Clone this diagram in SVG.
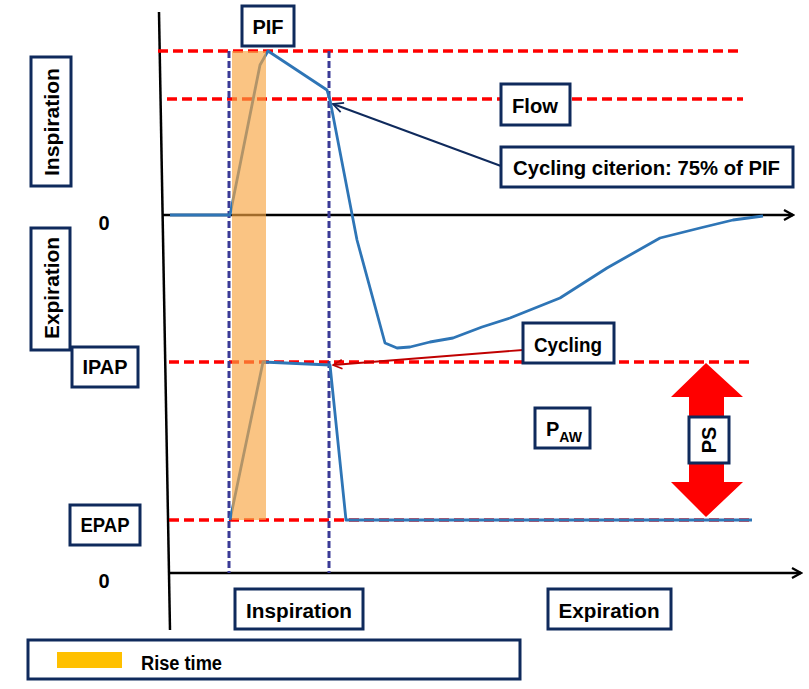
<svg xmlns="http://www.w3.org/2000/svg" width="809" height="689" viewBox="0 0 809 689">
<defs>
<marker id="axArrow" viewBox="0 0 12 12" refX="10" refY="6" markerWidth="12" markerHeight="12" markerUnits="userSpaceOnUse" orient="auto">
<path d="M1,1 L10,6 L1,11" fill="none" stroke="#000" stroke-width="2.2"/>
</marker>
<marker id="navyArrow" viewBox="0 0 12 12" refX="11" refY="6" markerWidth="12" markerHeight="12" markerUnits="userSpaceOnUse" orient="auto">
<path d="M1,1 L11,6 L1,11" fill="none" stroke="#0F2A5C" stroke-width="1.8"/>
</marker>
<marker id="redArrow" viewBox="0 0 12 12" refX="11" refY="6" markerWidth="11" markerHeight="11" markerUnits="userSpaceOnUse" orient="auto">
<path d="M1,1 L11,6 L1,11" fill="none" stroke="#C00000" stroke-width="1.8"/>
</marker>
</defs>
<style>
.box{fill:#fff;stroke:#0F2A5C;stroke-width:3}
.t{font-family:"Liberation Sans",Arial,sans-serif;font-weight:bold;font-size:20px;fill:#000}
.red{stroke:#FF0000;stroke-width:3.5;stroke-dasharray:10 5;fill:none}
.vdash{stroke:#3A3A96;stroke-width:3;stroke-dasharray:7 3;fill:none}
.axis{stroke:#000;stroke-width:2.5;fill:none}
.curve{stroke:#2E75B6;stroke-width:2.8;fill:none;stroke-linejoin:round}
</style>
<rect width="809" height="689" fill="#fff"/>

<g id="axes">
<line class="axis" x1="159" y1="12" x2="170" y2="630"/>
<line class="axis" x1="162" y1="215" x2="793" y2="215" marker-end="url(#axArrow)"/>
<line class="axis" x1="169" y1="573" x2="801" y2="573" marker-end="url(#axArrow)"/>
</g>

<g id="reference-lines">
<line class="red" x1="158" y1="51" x2="743" y2="51"/>
<line class="red" x1="167" y1="99" x2="743" y2="99"/>
<line class="red" x1="169" y1="362" x2="753" y2="362"/>
<line class="red" x1="169" y1="520" x2="752" y2="520"/>
<line class="vdash" x1="229" y1="51" x2="229" y2="573"/>
<line class="vdash" x1="329" y1="51" x2="329" y2="573"/>
</g>

<g id="curves">
<polyline class="curve" points="170,215 230,215 260,65 268,51 327,90 330,100 357,240 385,343 397,348 410,347 430,342 453,338 482,327 510,318 560,298 607,268 660,238 700,228 733,220 763,216"/>
<polyline class="curve" points="230,520 263,362 330,365 346,520 752,520"/>
</g>

<rect id="rise-band" x="232" y="51" width="34" height="469" fill="#F7A541" opacity="0.65"/>

<g id="ps-arrow">
<polygon points="706,363 743,397 724,397 724,482 743,482 706,517 671,482 689,482 689,397 671,397" fill="#FF0000"/>
</g>

<g id="connectors">
<line x1="501" y1="166" x2="333" y2="104" stroke="#0F2A5C" stroke-width="2" marker-end="url(#navyArrow)"/>
<line x1="523" y1="350" x2="333" y2="365" stroke="#C00000" stroke-width="1.8" marker-end="url(#redArrow)"/>
</g>

<g id="pif"><rect class="box" x="242" y="6" width="52" height="40"/><text class="t" x="268" y="34" text-anchor="middle">PIF</text></g>
<g id="flow"><rect class="box" x="501" y="84" width="69" height="41"/><text class="t" x="535" y="113" text-anchor="middle" textLength="46" lengthAdjust="spacingAndGlyphs">Flow</text></g>
<g id="cycling-criterion"><rect class="box" x="501" y="147" width="292" height="40"/><text class="t" x="513" y="175" textLength="267" lengthAdjust="spacingAndGlyphs">Cycling citerion: 75% of PIF</text></g>
<g id="inspiration-axis"><rect class="box" x="31" y="57" width="40" height="129"/><text class="t" transform="translate(59,122) rotate(-90)" text-anchor="middle" textLength="108" lengthAdjust="spacingAndGlyphs">Inspiration</text></g>
<g id="expiration-axis"><rect class="box" x="31" y="228" width="39" height="122"/><text class="t" transform="translate(59,288) rotate(-90)" text-anchor="middle" textLength="102" lengthAdjust="spacingAndGlyphs">Expiration</text></g>
<g id="zero-flow"><text class="t" x="104" y="230" text-anchor="middle">0</text></g>
<g id="ipap"><rect class="box" x="72" y="347" width="66" height="40"/><text class="t" x="105" y="374" text-anchor="middle" textLength="45" lengthAdjust="spacingAndGlyphs">IPAP</text></g>
<g id="cycling"><rect class="box" x="523" y="323" width="91" height="40"/><text class="t" x="568" y="352" text-anchor="middle" textLength="68" lengthAdjust="spacingAndGlyphs">Cycling</text></g>
<g id="paw"><rect class="box" x="535" y="408" width="55" height="40"/><text class="t" x="546" y="436">P<tspan font-size="14" dy="6">AW</tspan></text></g>
<g id="ps"><rect class="box" x="689" y="417" width="40" height="46"/><text class="t" transform="translate(716,440) rotate(-90)" text-anchor="middle">PS</text></g>
<g id="epap"><rect class="box" x="70" y="505" width="70" height="40"/><text class="t" x="105" y="532" text-anchor="middle" textLength="49" lengthAdjust="spacingAndGlyphs">EPAP</text></g>
<g id="zero-pressure"><text class="t" x="104" y="588" text-anchor="middle">0</text></g>
<g id="inspiration-phase"><rect class="box" x="235" y="589" width="128" height="40"/><text class="t" x="299" y="618" text-anchor="middle" textLength="106" lengthAdjust="spacingAndGlyphs">Inspiration</text></g>
<g id="expiration-phase"><rect class="box" x="548" y="589" width="123" height="40"/><text class="t" x="609" y="618" text-anchor="middle" textLength="101" lengthAdjust="spacingAndGlyphs">Expiration</text></g>
<g id="legend"><rect class="box" x="28" y="640" width="492" height="39"/><rect x="57" y="652" width="65" height="16" fill="#FFC000"/><text class="t" x="141" y="670" font-size="16" textLength="81" lengthAdjust="spacingAndGlyphs">Rise time</text></g>
</svg>
